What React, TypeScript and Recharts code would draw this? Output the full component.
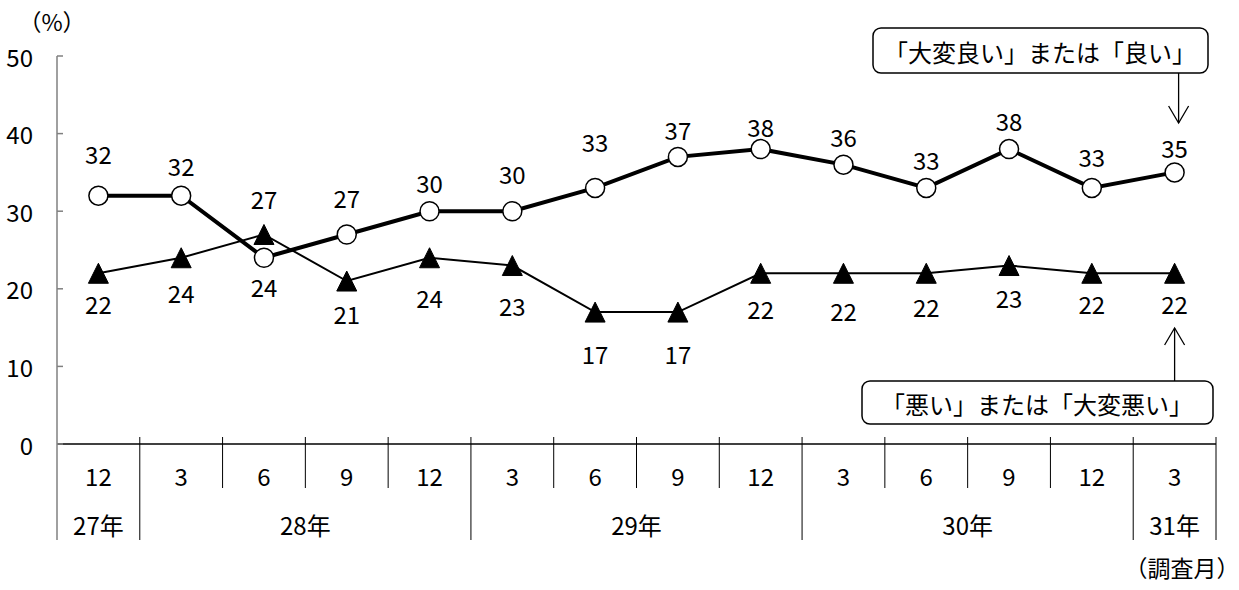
import React from 'react';
import { LineChart, Line, XAxis, YAxis, LabelList } from 'recharts';

// Survey periods (year-month) and the display rows of the category axis
const periods = ['27-12', '28-3', '28-6', '28-9', '28-12', '29-3', '29-6', '29-9', '29-12', '30-3', '30-6', '30-9', '30-12', '31-3'];
const monthLabels = ['12', '3', '6', '9', '12', '3', '6', '9', '12', '3', '6', '9', '12', '3'];
const yearLabels = ['27年', '28年', '29年', '30年', '31年'];
const yearStarts = [0, 1, 5, 9, 13];
const yearSpans = [1, 4, 4, 4, 1];

// Shares (%)
const goodValues = [32, 32, 24, 27, 30, 30, 33, 37, 38, 36, 33, 38, 33, 35];
const badValues = [22, 24, 27, 21, 24, 23, 17, 17, 22, 22, 22, 23, 22, 22];
const yTicks = [0, 10, 20, 30, 40, 50];

const goodName = '「大変良い」または「良い」';
const badName = '「悪い」または「大変悪い」';

// Layout
const W = 1239;
const H = 590;
const PLOT_L = 57;
const PLOT_R = 1216;
const PLOT_T = 56;
const PLOT_B = 444;
const BAND = (PLOT_R - PLOT_L) / periods.length;
const NUM_FONT = "'Liberation Sans Narrow', 'Noto Sans CJK JP', sans-serif";
const JP_FONT = "'Noto Sans CJK JP', 'Noto Sans', sans-serif";
const NUM_SIZE = 24;

// Vertical offsets of each value label from its marker
const goodLabelDy = [-42, -30, 29, -37, -29, -38, -46, -27, -23, -28, -28, -29, -31, -25];
const badLabelDy = [30, 35, -36, 32, 40, 40, 41, 41, 35, 37, 33, 32, 30, 30];

const data = periods.map((p, i) => ({ period: p, good: goodValues[i], bad: badValues[i] }));

const MonthTick = (props: any) => {
  const { x, index } = props;
  const left = x - BAND / 2;
  const yi = yearStarts.indexOf(index);
  const isYearStart = yi >= 0;
  const isLast = index === periods.length - 1;
  return (
    <g>
      <line
        x1={left}
        x2={left}
        y1={index === 0 ? PLOT_B : PLOT_B - 7}
        y2={isYearStart ? 540 : 488}
        stroke={index === 0 ? '#808080' : '#000'}
        strokeWidth={index === 0 ? 1.5 : 1}
      />
      {isLast && <line x1={left + BAND} x2={left + BAND} y1={PLOT_B - 7} y2={540} stroke="#000" strokeWidth={1} />}
      <text x={x} y={475} textAnchor="middle" dominantBaseline="central" fontFamily={NUM_FONT} fontSize={NUM_SIZE} fill="#000">
        {monthLabels[index]}
      </text>
      {isYearStart && (
        <text
          x={left + (yearSpans[yi] * BAND) / 2}
          y={524}
          textAnchor="middle"
          dominantBaseline="central"
          fontFamily={NUM_FONT}
          fontSize={NUM_SIZE}
          fill="#000"
        >
          {yearLabels[yi]}
        </text>
      )}
    </g>
  );
};

const ValueTick = (props: any) => {
  const { y, payload } = props;
  return (
    <g>
      <line x1={PLOT_L} x2={PLOT_L + 6} y1={y} y2={y} stroke="#808080" strokeWidth={1.5} />
      <text x={33} y={y} textAnchor="end" dominantBaseline="central" fontFamily={NUM_FONT} fontSize={NUM_SIZE} fill="#000">
        {payload.value}
      </text>
    </g>
  );
};

const CircleDot = (props: any) => {
  const { cx, cy, index } = props;
  if (cx == null || cy == null) return null;
  return <circle key={`c${index}`} cx={cx} cy={cy} r={9.5} fill="#fff" stroke="#000" strokeWidth={1.5} />;
};

const TriangleDot = (props: any) => {
  const { cx, cy, index } = props;
  if (cx == null || cy == null) return null;
  return (
    <polygon
      key={`t${index}`}
      points={`${cx},${cy - 10} ${cx - 10},${cy + 10} ${cx + 10},${cy + 10}`}
      fill="#000"
      stroke="#000"
      strokeWidth={1}
    />
  );
};

const makeLabel = (offsets: number[]) => (props: any) => {
  const { x, y, value, index } = props;
  return (
    <text
      key={`l${index}`}
      x={x}
      y={y + offsets[index]}
      textAnchor="middle"
      dominantBaseline="central"
      fontFamily={NUM_FONT}
      fontSize={NUM_SIZE}
      fill="#000"
    >
      {value}
    </text>
  );
};

const lastX = PLOT_L + BAND * (periods.length - 0.5);

const Callouts = () => (
  <svg width={W} height={H} style={{ position: 'absolute', left: 0, top: 0, pointerEvents: 'none' }}>
    <text x={52} y={21} textAnchor="middle" dominantBaseline="central" fontFamily={JP_FONT} fontSize={23} fill="#000">
      （%）
    </text>
    <text x={1182} y={567} textAnchor="middle" dominantBaseline="central" fontFamily={JP_FONT} fontSize={23} fill="#000">
      （調査月）
    </text>

    {/* upper series callout */}
    <rect x={873} y={28} width={335} height={45} rx={8} ry={8} fill="#fff" stroke="#000" strokeWidth={1.5} />
    <text x={1040} y={51} textAnchor="middle" dominantBaseline="central" fontFamily={JP_FONT} fontSize={24} fill="#000">
      {goodName}
    </text>
    <line x1={lastX + 4} x2={lastX + 4} y1={73} y2={123} stroke="#000" strokeWidth={1.3} />
    <polyline
      points={`${lastX + 4 - 10},${106} ${lastX + 4},${123} ${lastX + 4 + 10},${106}`}
      fill="none"
      stroke="#000"
      strokeWidth={1.3}
    />

    {/* lower series callout */}
    <rect x={862} y={381} width={351} height={43} rx={8} ry={8} fill="#fff" stroke="#000" strokeWidth={1.5} />
    <text x={1037} y={403} textAnchor="middle" dominantBaseline="central" fontFamily={JP_FONT} fontSize={24} fill="#000">
      {badName}
    </text>
    <line x1={lastX} x2={lastX} y1={381} y2={328} stroke="#000" strokeWidth={1.3} />
    <polyline
      points={`${lastX - 10},${345} ${lastX},${328} ${lastX + 10},${345}`}
      fill="none"
      stroke="#000"
      strokeWidth={1.3}
    />
  </svg>
);

export default function App() {
  return (
    <div style={{ position: 'absolute', left: 0, top: 0, width: W, height: H, background: '#fff' }}>
      <LineChart width={W} height={H} data={data} margin={{ top: PLOT_T, right: W - PLOT_R, left: 0, bottom: 0 }}>
        <XAxis
          dataKey="period"
          interval={0}
          height={H - PLOT_B}
          padding={{ left: BAND / 2, right: BAND / 2 }}
          axisLine={{ stroke: '#000', strokeWidth: 1.5 }}
          tickLine={false}
          tick={(p: any) => <MonthTick {...p} />}
        />
        <YAxis
          width={PLOT_L}
          type="number"
          domain={[0, 50]}
          ticks={yTicks}
          interval={0}
          axisLine={{ stroke: '#808080', strokeWidth: 1.5 }}
          tickLine={false}
          tick={(p: any) => <ValueTick {...p} />}
        />
        <Line
          dataKey="bad"
          name={badName}
          stroke="#000"
          strokeWidth={2}
          dot={(p: any) => <TriangleDot {...p} />}
          activeDot={false}
          isAnimationActive={false}
        >
          <LabelList dataKey="bad" content={makeLabel(badLabelDy)} />
        </Line>
        <Line
          dataKey="good"
          name={goodName}
          stroke="#000"
          strokeWidth={4}
          dot={(p: any) => <CircleDot {...p} />}
          activeDot={false}
          isAnimationActive={false}
        >
          <LabelList dataKey="good" content={makeLabel(goodLabelDy)} />
        </Line>
      </LineChart>
      <Callouts />
    </div>
  );
}
